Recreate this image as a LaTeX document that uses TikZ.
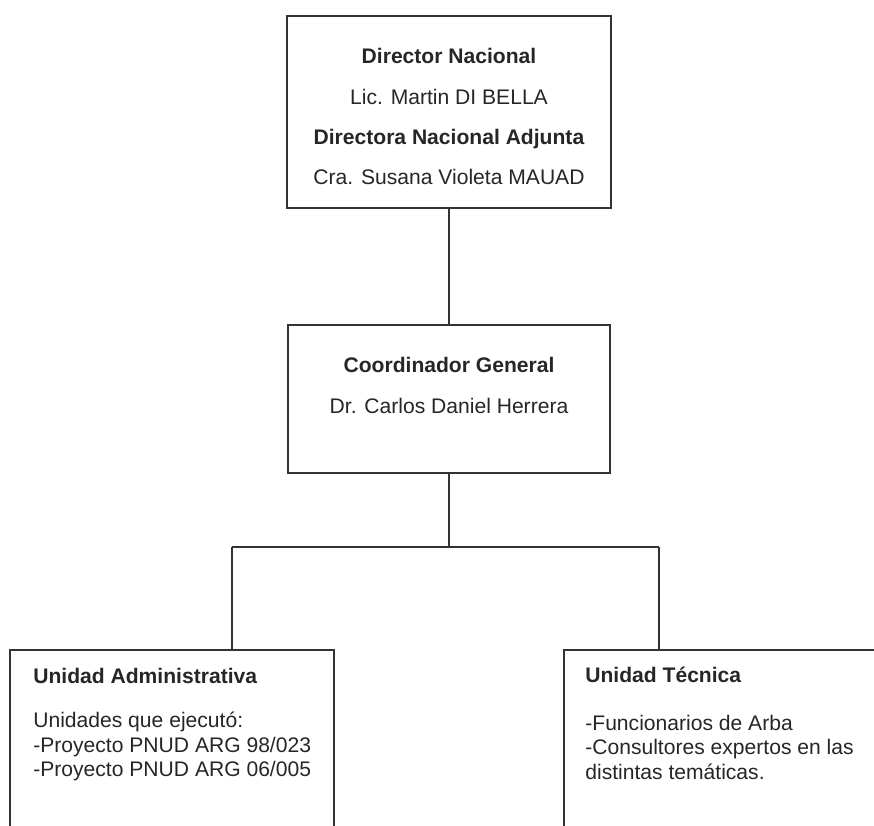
\documentclass[tikz,border=0pt]{standalone}
\usepackage{fontspec}
\setmainfont{Liberation Sans}
\usetikzlibrary{positioning}
\tikzset{
    caja/.style = {rectangle, draw=black!80, line width=1pt, inner sep=0pt, minimum width=6.48cm},
    textoc/.style = {inner sep=0pt, align=center, anchor=north, text=black!85, font=\fontsize{12}{23}\selectfont},
    textoi/.style = {inner sep=0pt, align=left, anchor=north west, text=black!85, font=\fontsize{12}{14}\selectfont},
    linea/.style = {-, line width=1pt, black!80}
}
\begin{document}
\begin{tikzpicture}[x=0.02cm, y=-0.02cm]
  \useasboundingbox (0,0) rectangle (874,825);
  \clip (0,0) rectangle (874,825);
  % cajas
  \node[caja, minimum height=3.84cm] (dir) at (449,112) {};
  \node[caja, minimum width=6.44cm, minimum height=2.96cm] (coord) at (449,399) {};
  \node[caja, minimum height=4.4cm] (ua) at (172,760) {};
  \node[caja, minimum height=4.4cm] (ut) at (726,760) {};
  % textos
  \node[textoc] (tdir) at (449,48) {\textbf{Director Nacional}\\Lic. Martin DI BELLA\\\textbf{Directora Nacional Adjunta}\\Cra. Susana Violeta MAUAD};
  \node[textoc, font=\fontsize{12}{23.3}\selectfont] (tcoord) at (449,357) {\textbf{Coordinador General}\\Dr. Carlos Daniel Herrera};
  \node[textoi] (tua) at (33,668) {\textbf{Unidad Administrativa}\\[11pt]Unidades que ejecutó:\\-Proyecto PNUD ARG 98/023\\-Proyecto PNUD ARG 06/005};
  \node[textoi] (tut) at (585,667) {\textbf{Unidad Técnica}\\[13pt]-Funcionarios de Arba\\-Consultores expertos en las\\distintas temáticas.};
  % conectores
  \coordinate (rama) at (449,547);
  \coordinate (izq) at (232,547);
  \coordinate (der) at (659,547);
  \draw[linea] (dir.south) -- (coord.north);
  \draw[linea] (coord.south) -- (rama);
  \draw[linea] (izq) -- (der);
  \draw[linea] (izq) -- (izq |- ua.north);
  \draw[linea] (der) -- (der |- ut.north);
\end{tikzpicture}
\end{document}
